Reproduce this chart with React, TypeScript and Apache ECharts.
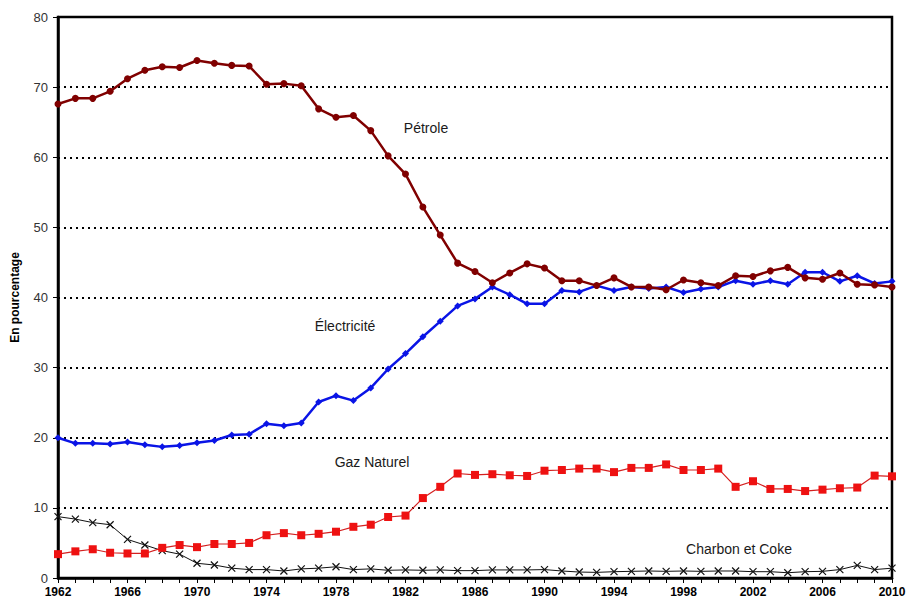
import React, { useEffect, useRef } from "react";
import * as echarts from "echarts";

const years: string[] = [];
for (let y = 1962; y <= 2010; y++) years.push(String(y));

const petrole = [
  67.6, 68.4, 68.4, 69.4, 71.2, 72.4, 72.9, 72.8, 73.8, 73.4,
  73.1, 73.0, 70.4, 70.5, 70.2, 66.9, 65.7, 65.95, 63.8, 60.2,
  57.6, 52.9, 48.9, 44.9, 43.7, 42.1, 43.5, 44.8, 44.2, 42.4,
  42.4, 41.7, 42.8, 41.5, 41.5, 41.1, 42.5, 42.1, 41.7, 43.1,
  43.0, 43.8, 44.3, 42.8, 42.6, 43.5, 41.9, 41.8, 41.5,
];

const electricite = [
  20.0, 19.2, 19.2, 19.1, 19.4, 19.0, 18.7, 18.9, 19.3, 19.6,
  20.4, 20.5, 22.0, 21.7, 22.1, 25.1, 26.0, 25.3, 27.1, 29.8,
  32.0, 34.4, 36.6, 38.8, 39.8, 41.5, 40.4, 39.1, 39.1, 41.0,
  40.8, 41.7, 41.0, 41.5, 41.3, 41.5, 40.7, 41.2, 41.5, 42.4,
  41.9, 42.4, 41.9, 43.6, 43.6, 42.3, 43.1, 42.0, 42.3,
];

const gazNaturel = [
  3.4, 3.8, 4.1, 3.6, 3.5, 3.5, 4.3, 4.7, 4.4, 4.85,
  4.85, 5.0, 6.1, 6.4, 6.1, 6.3, 6.6, 7.3, 7.6, 8.7,
  8.9, 11.4, 13.0, 14.9, 14.7, 14.8, 14.65, 14.55, 15.3, 15.4,
  15.6, 15.6, 15.1, 15.7, 15.7, 16.2, 15.4, 15.4, 15.6, 13.0,
  13.8, 12.7, 12.7, 12.4, 12.6, 12.8, 12.9, 14.6, 14.5,
];

const charbon = [
  8.75, 8.4, 7.9, 7.6, 5.5, 4.7, 3.9, 3.4, 2.1, 1.85,
  1.4, 1.2, 1.2, 1.0, 1.3, 1.4, 1.6, 1.2, 1.3, 1.1,
  1.15, 1.1, 1.15, 1.05, 1.05, 1.15, 1.15, 1.15, 1.2, 1.0,
  0.85, 0.8, 0.9, 0.95, 1.0, 0.95, 1.0, 0.95, 1.0, 1.0,
  0.9, 0.9, 0.75, 0.9, 0.95, 1.2, 1.8, 1.2, 1.4,
];

const yTicks = { min: 0, max: 80, interval: 10 };

const labels = [
  { text: "Pétrole", x: 426, y: 128 },
  { text: "Électricité", x: 345, y: 326 },
  { text: "Gaz Naturel", x: 372, y: 462 },
  { text: "Charbon et Coke", x: 739, y: 549 },
];

export default function App() {
  const ref = useRef<HTMLDivElement>(null);
  useEffect(() => {
    if (!ref.current) return;
    document.body.style.margin = "0";
    document.body.style.overflow = "hidden";
    const chart = echarts.init(ref.current, null, { renderer: "svg" });
    const font = "Liberation Sans, Arial, sans-serif";
    chart.setOption({
      animation: false,
      backgroundColor: "#ffffff",
      textStyle: { fontFamily: font },
      grid: {
        left: 58,
        right: 15,
        top: 17,
        bottom: 29,
        containLabel: false,
        outerBoundsMode: "none",
        show: true,
        borderColor: "#000",
        borderWidth: 2.5,
        backgroundColor: "transparent",
      },
      xAxis: {
        type: "category",
        data: years,
        boundaryGap: false,
        axisLine: { lineStyle: { color: "#000", width: 2.5 } },
        axisTick: {
          show: true,
          interval: 0,
          length: 5,
          inside: false,
          lineStyle: { color: "#000", width: 1 },
        },
        axisLabel: {
          interval: 3,
          color: "#000",
          fontWeight: "bold",
          fontSize: 12,
          fontFamily: font,
          margin: 8,
        },
        splitLine: { show: false },
      },
      yAxis: {
        type: "value",
        min: yTicks.min,
        max: yTicks.max,
        interval: yTicks.interval,
        name: "En pourcentage",
        nameLocation: "middle",
        nameGap: 37,
        nameRotate: 90,
        nameTextStyle: {
          color: "#000",
          fontWeight: "bold",
          fontSize: 12,
          fontFamily: font,
        },
        axisLine: { show: true, lineStyle: { color: "#000", width: 2.5 } },
        axisTick: { show: true, length: 5, lineStyle: { color: "#000", width: 1 } },
        axisLabel: { color: "#333", fontSize: 13, fontFamily: font, margin: 10 },
        splitLine: {
          show: true,
          lineStyle: { color: "#000", type: [2, 4], width: 2 },
        },
      },
      graphic: labels.map((l) => ({
        type: "text",
        x: l.x,
        y: l.y,
        style: {
          text: l.text,
          fill: "#1a1a1a",
          font: `14px ${font}`,
          align: "center",
          verticalAlign: "middle",
        },
      })),
      series: [
        {
          name: "Pétrole",
          type: "line",
          data: petrole,
          symbol: "circle",
          symbolSize: 7,
          lineStyle: { color: "#800000", width: 2.5 },
          itemStyle: { color: "#800000" },
          z: 4,
        },
        {
          name: "Électricité",
          type: "line",
          data: electricite,
          symbol: "diamond",
          symbolSize: 7,
          lineStyle: { color: "#0a14e6", width: 2.5 },
          itemStyle: { color: "#0a14e6" },
          z: 3,
        },
        {
          name: "Gaz Naturel",
          type: "line",
          data: gazNaturel,
          symbol: "rect",
          symbolSize: 8,
          lineStyle: { color: "#d42020", width: 1.2 },
          itemStyle: { color: "#ee1111" },
          z: 3,
        },
        {
          name: "Charbon et Coke",
          type: "line",
          data: charbon,
          symbol: "path://M0,0 L10,10 M10,0 L0,10",
          symbolSize: 7,
          lineStyle: { color: "#111", width: 1 },
          itemStyle: { color: "none", borderColor: "#111", borderWidth: 1.2 },
          z: 2,
        },
      ],
    });
    return () => chart.dispose();
  }, []);
  return <div ref={ref} style={{ width: 907, height: 607 }} />;
}
